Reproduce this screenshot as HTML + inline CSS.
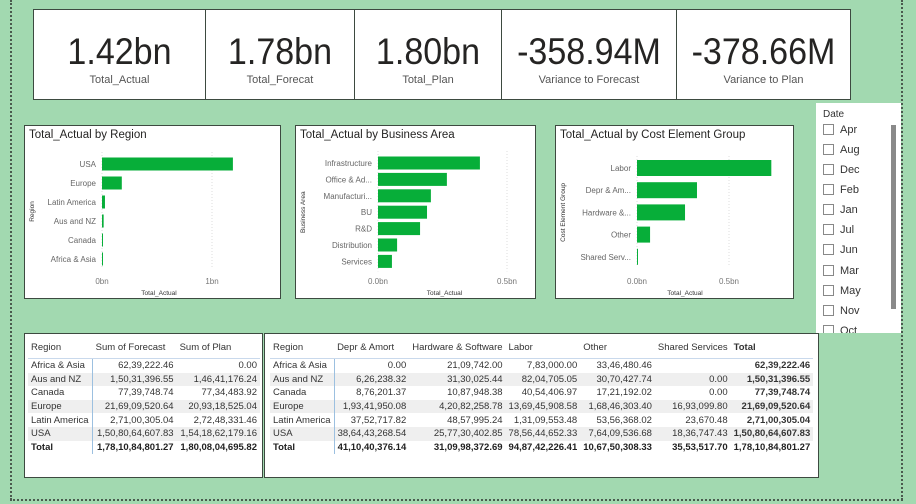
<!DOCTYPE html>
<html><head><meta charset="utf-8">
<style>
body{margin:0;width:916px;height:504px;background:#a2d9b0;position:relative;overflow:hidden;font-family:"Liberation Sans",sans-serif;color:#252423}
.abs{position:absolute}
.card{position:absolute;top:9px;height:91px;background:#fff;border:1px solid #3d4a40;box-sizing:border-box;text-align:center}
.card .v{font-size:37px;margin-top:23px;line-height:38px;color:#252423;transform:scaleX(0.92);white-space:nowrap}
.card .l{font-size:11px;color:#555;margin-top:3px}
.panel{position:absolute;background:#fff;border:1px solid #3d4a40;box-sizing:border-box}
.title{position:absolute;left:4px;top:3px;font-size:11.5px;color:#252423}
svg text{font-family:"Liberation Sans",sans-serif}
table{border-collapse:collapse;font-size:9.5px;position:absolute;color:#333}
td{padding:0 3px;height:13.6px;white-space:nowrap}
td.n{text-align:right}
tr.h td{height:22px;color:#333;border-bottom:1px solid #c9d9ec}
tr.s td{background:#efefef}
tr.t td{font-weight:bold;color:#222}
.slicer{position:absolute;left:816px;top:103px;width:85px;height:230px;background:#fff;overflow:hidden}
.si{position:absolute;left:7px;font-size:11px;color:#333}
.si span{display:inline-block;width:11px;height:11px;border:1px solid #888;vertical-align:-2px;margin-right:6px;box-sizing:border-box}
</style></head><body>
<div class="abs" style="left:10px;top:0;height:500px;border-left:2px dotted #4a5a4e"></div>
<div class="abs" style="left:901px;top:0;height:500px;border-left:2px dotted #4a5a4e"></div>
<div class="abs" style="left:10px;top:499px;width:893px;border-top:2px dotted #4a5a4e"></div>

<div class="card" style="left:33px;width:173px"><div class="v">1.42bn</div><div class="l">Total_Actual</div></div>
<div class="card" style="left:205px;width:150px"><div class="v">1.78bn</div><div class="l">Total_Forecat</div></div>
<div class="card" style="left:354px;width:148px"><div class="v">1.80bn</div><div class="l">Total_Plan</div></div>
<div class="card" style="left:501px;width:176px"><div class="v">-358.94M</div><div class="l">Variance to Forecast</div></div>
<div class="card" style="left:676px;width:175px"><div class="v">-378.66M</div><div class="l">Variance to Plan</div></div>

<div class="panel" style="left:24px;top:125px;width:257px;height:174px"><div class="title">Total_Actual by Region</div><svg id="c1" width="255" height="172" class="abs" style="left:0;top:0"></svg></div>
<div class="panel" style="left:295px;top:125px;width:241px;height:174px"><div class="title">Total_Actual by Business Area</div><svg id="c2" width="239" height="172" class="abs" style="left:0;top:0"></svg></div>
<div class="panel" style="left:555px;top:125px;width:239px;height:174px"><div class="title">Total_Actual by Cost Element Group</div><svg id="c3" width="237" height="172" class="abs" style="left:0;top:0"></svg></div>

<div class="slicer">
<div class="si" style="top:6px;font-size:10px">Date</div>
<div class="si" style="top:21px"><span></span>Apr</div>
<div class="si" style="top:41px"><span></span>Aug</div>
<div class="si" style="top:61px"><span></span>Dec</div>
<div class="si" style="top:81px"><span></span>Feb</div>
<div class="si" style="top:101px"><span></span>Jan</div>
<div class="si" style="top:121px"><span></span>Jul</div>
<div class="si" style="top:141px"><span></span>Jun</div>
<div class="si" style="top:162px"><span></span>Mar</div>
<div class="si" style="top:182px"><span></span>May</div>
<div class="si" style="top:202px"><span></span>Nov</div>
<div class="si" style="top:222px"><span></span>Oct</div>
<div class="abs" style="left:75px;top:22px;width:5px;height:184px;background:#8a8a8a"></div>
</div>

<div class="panel" style="left:24px;top:333px;width:239px;height:145px">
<table style="left:3px;top:2px;width:232px">
<tr class="h"><td>Region</td><td>Sum of Forecast</td><td>Sum of Plan</td></tr>
<tr><td>Africa &amp; Asia</td><td class="n" style="border-left:1px solid #9cc0e0">62,39,222.46</td><td class="n">0.00</td></tr>
<tr class="s"><td>Aus and NZ</td><td class="n" style="border-left:1px solid #9cc0e0">1,50,31,396.55</td><td class="n">1,46,41,176.24</td></tr>
<tr><td>Canada</td><td class="n" style="border-left:1px solid #9cc0e0">77,39,748.74</td><td class="n">77,34,483.92</td></tr>
<tr class="s"><td>Europe</td><td class="n" style="border-left:1px solid #9cc0e0">21,69,09,520.64</td><td class="n">20,93,18,525.04</td></tr>
<tr><td>Latin America</td><td class="n" style="border-left:1px solid #9cc0e0">2,71,00,305.04</td><td class="n">2,72,48,331.46</td></tr>
<tr class="s"><td>USA</td><td class="n" style="border-left:1px solid #9cc0e0">1,50,80,64,607.83</td><td class="n">1,54,18,62,179.16</td></tr>
<tr class="t"><td>Total</td><td class="n" style="border-left:1px solid #9cc0e0">1,78,10,84,801.27</td><td class="n">1,80,08,04,695.82</td></tr>
</table></div>

<div class="panel" style="left:264px;top:333px;width:555px;height:145px">
<table style="left:5px;top:2px;width:543px">
<tr class="h"><td>Region</td><td>Depr &amp; Amort</td><td>Hardware &amp; Software</td><td>Labor</td><td>Other</td><td>Shared Services</td><td style="font-weight:bold">Total</td></tr>
<tr><td>Africa &amp; Asia</td><td class="n" style="border-left:1px solid #9cc0e0">0.00</td><td class="n">21,09,742.00</td><td class="n">7,83,000.00</td><td class="n">33,46,480.46</td><td class="n"></td><td class="n" style="font-weight:bold">62,39,222.46</td></tr>
<tr class="s"><td>Aus and NZ</td><td class="n" style="border-left:1px solid #9cc0e0">6,26,238.32</td><td class="n">31,30,025.44</td><td class="n">82,04,705.05</td><td class="n">30,70,427.74</td><td class="n">0.00</td><td class="n" style="font-weight:bold">1,50,31,396.55</td></tr>
<tr><td>Canada</td><td class="n" style="border-left:1px solid #9cc0e0">8,76,201.37</td><td class="n">10,87,948.38</td><td class="n">40,54,406.97</td><td class="n">17,21,192.02</td><td class="n">0.00</td><td class="n" style="font-weight:bold">77,39,748.74</td></tr>
<tr class="s"><td>Europe</td><td class="n" style="border-left:1px solid #9cc0e0">1,93,41,950.08</td><td class="n">4,20,82,258.78</td><td class="n">13,69,45,908.58</td><td class="n">1,68,46,303.40</td><td class="n">16,93,099.80</td><td class="n" style="font-weight:bold">21,69,09,520.64</td></tr>
<tr><td>Latin America</td><td class="n" style="border-left:1px solid #9cc0e0">37,52,717.82</td><td class="n">48,57,995.24</td><td class="n">1,31,09,553.48</td><td class="n">53,56,368.02</td><td class="n">23,670.48</td><td class="n" style="font-weight:bold">2,71,00,305.04</td></tr>
<tr class="s"><td>USA</td><td class="n" style="border-left:1px solid #9cc0e0">38,64,43,268.54</td><td class="n">25,77,30,402.85</td><td class="n">78,56,44,652.33</td><td class="n">7,64,09,536.68</td><td class="n">18,36,747.43</td><td class="n" style="font-weight:bold">1,50,80,64,607.83</td></tr>
<tr class="t"><td>Total</td><td class="n" style="border-left:1px solid #9cc0e0">41,10,40,376.14</td><td class="n">31,09,98,372.69</td><td class="n">94,87,42,226.41</td><td class="n">10,67,50,308.33</td><td class="n">35,53,517.70</td><td class="n">1,78,10,84,801.27</td></tr>
</table></div>

<script>
const regionCats=["USA","Europe","Latin America","Aus and NZ","Canada","Africa & Asia"];
const regionVals=[1.19,0.18,0.027,0.015,0.008,0.006];
const regionTicks=[0,1];
const regionTickLabels=["0bn","1bn"];
const areaCats=["Infrastructure","Office & Ad...","Manufacturi...","BU","R&D","Distribution","Services"];
const areaVals=[0.395,0.267,0.205,0.19,0.163,0.074,0.054];
const areaTicks=[0,0.5];
const areaTickLabels=["0.0bn","0.5bn"];
const costCats=["Labor","Depr & Am...","Hardware &...","Other","Shared Serv..."];
const costVals=[0.73,0.326,0.261,0.071,0.004];
const costTicks=[0,0.5];
const costTickLabels=["0.0bn","0.5bn"];
const NS="http://www.w3.org/2000/svg";
function mk(svg,tag,attrs,txt){const e=document.createElementNS(NS,tag);for(const k in attrs)e.setAttribute(k,attrs[k]);if(txt!=null)e.textContent=txt;svg.appendChild(e);return e;}
function chart(id,cats,vals,ticks,tlabels,x0,pxPerUnit,yTop,step,bh,ytitle,prefix){
  const svg=document.getElementById(id);
  const xs=v=>x0+v*pxPerUnit;
  const ys=i=>yTop+i*step;
  ticks.forEach((t,i)=>{
    const g=mk(svg,'line',{x1:xs(t),x2:xs(t),y1:yTop-12,y2:ys(cats.length-1)+10,stroke:'#ddd','stroke-dasharray':'1,2'});
    
    
    const tl=mk(svg,'text',{x:xs(t),y:158,'font-size':8,fill:'#777','text-anchor':'middle'},tlabels[i]);
    
    
  });
  cats.forEach((c,i)=>{
    const r=mk(svg,'rect',{x:xs(0),y:ys(i)-bh/2,width:Math.max(1,xs(vals[i])-xs(0)),height:bh,fill:'#07ae39'});
    
    
    const l=mk(svg,'text',{x:xs(0)-6,y:ys(i)+3,'font-size':8,fill:'#666','text-anchor':'end'},c);
    
    
  });
  const xt=mk(svg,'text',{x:(xs(0)+xs(ticks[1]))/2+2,y:169,'font-size':6.5,fill:'#333','text-anchor':'middle'},'Total_Actual');
  
  
  const cy=(ys(0)+ys(cats.length-1))/2;
  const yt=mk(svg,'text',{x:0,y:0,'font-size':6.5,fill:'#333','text-anchor':'middle',transform:`translate(9,${cy}) rotate(-90)`},ytitle);
  
  
}
chart('c1',regionCats,regionVals,regionTicks,regionTickLabels,77,110,38,19,13,'Region','region');
chart('c2',areaCats,areaVals,areaTicks,areaTickLabels,82,258,37,16.4,13,'Business Area','area');
chart('c3',costCats,costVals,costTicks,costTickLabels,81,184,42,22.2,16,'Cost Element Group','cost');
</script>
</body></html>
